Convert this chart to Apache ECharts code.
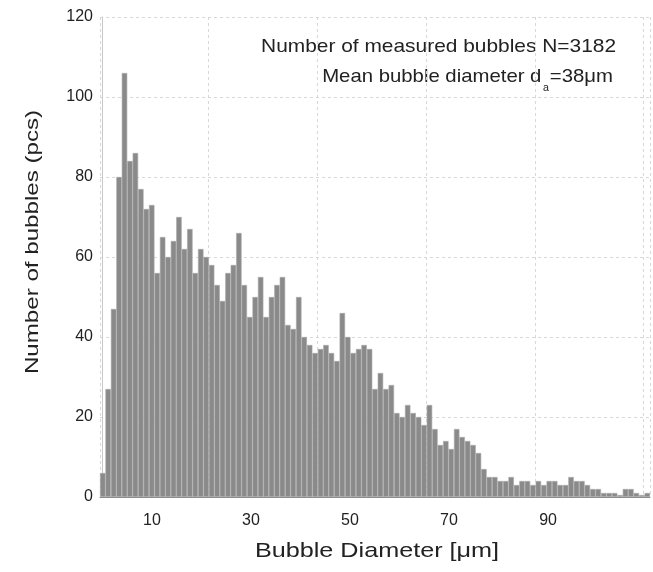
<!DOCTYPE html>
<html>
<head>
<meta charset="utf-8">
<script src="https://cdn.jsdelivr.net/npm/echarts@6/dist/echarts.min.js"></script>
<style>
html,body{margin:0;padding:0;background:#fff;}
#chart{width:653px;height:572px;}
</style>
</head>
<body>
<div id="chart"></div>
<script>
// Histogram bin index (1..101) and counts
var bins = [];
for (var i = 1; i <= 101; i++) bins.push(String(i));
var counts = [
  6, 27, 47, 80, 106, 84, 86, 77, 72, 73,
  56, 65, 60, 64, 70, 62, 67, 56, 62, 60,
  58, 53, 49, 56, 58, 66, 53, 45, 50, 55,
  45, 50, 53, 55, 43, 42, 50, 40, 38, 36,
  37, 38, 36, 34, 46, 40, 36, 37, 38, 37,
  27, 31, 27, 28, 21, 20, 23, 21, 20, 18,
  23, 17, 13, 14, 12, 17, 15, 14, 13, 11,
  7, 5, 5, 4, 4, 5, 3, 4, 4, 3,
  4, 3, 4, 4, 3, 3, 5, 4, 4, 3,
  2, 2, 1, 1, 1, 0.5, 2, 2, 1, 0.5,
  1
];
var xTickLabels = [10, 30, 50, 70, 90];
var xTitle = 'Bubble Diameter [μm]';
var yTitle = 'Number of bubbles (pcs)';
var noteLine1 = 'Number of measured bubbles N=3182';
var noteLine2a = 'Mean bubble diameter d';
var noteSub = 'a';
var noteLine2b = '=38μm';

var FONT = '"Liberation Sans", Arial, sans-serif';
var cv = document.createElement('canvas').getContext('2d');
function tw(txt, size) { cv.font = size + 'px ' + FONT; return cv.measureText(txt).width; }

var SX1 = 1.1, SX2 = 1.07;
var R2 = 613;
var w2b = tw(noteLine2b, 19) * SX2;
var wSub = tw(noteSub, 10) * SX2;
var subRight = R2 - w2b - 1;
var line2aRight = subRight - wSub - 1.5;

var chart = echarts.init(document.getElementById('chart'), null, {renderer: 'canvas'});
chart.setOption({
  animation: false,
  backgroundColor: '#ffffff',
  grid: {left: 100, right: 3, top: 17, bottom: 75, containLabel: false},
  xAxis: [
    {
      type: 'category', data: bins, position: 'bottom',
      axisLine: {show: true, lineStyle: {color: '#8a8a8a', width: 1}},
      axisTick: {show: false}, axisLabel: {show: false}, splitLine: {show: false}
    },
    {
      type: 'value', min: -0.505, max: 110.6, position: 'bottom',
      axisLine: {show: false}, axisTick: {show: false}, splitLine: {show: false},
      axisLabel: {show: true, customValues: xTickLabels, fontSize: 16, color: '#222', fontFamily: FONT, margin: 16}
    },
    {
      type: 'value', min: 0, max: 5.06, interval: 1, position: 'top',
      axisLine: {show: false}, axisTick: {show: false}, axisLabel: {show: false},
      splitLine: {show: true, lineStyle: {color: '#d8d8d8', type: [3, 3], width: 1}}
    }
  ],
  yAxis: {
    type: 'value', min: 0, max: 120, interval: 20,
    axisLine: {show: true, lineStyle: {color: '#c8c8c8'}},
    axisTick: {show: false},
    axisLabel: {fontSize: 16, color: '#222', fontFamily: FONT, margin: 7},
    splitLine: {show: true, lineStyle: {color: '#d8d8d8', type: [3, 3], width: 1}}
  },
  series: [{
    type: 'bar', xAxisIndex: 0, data: counts,
    barCategoryGap: '0%',
    itemStyle: {color: '#8a8a8a', borderColor: '#a8a8a8', borderWidth: 0.6},
    silent: true
  }],
  graphic: [
    {type: 'text', x: 377, y: 551, scaleX: 1.2, style: {text: xTitle, fontSize: 21, fill: '#222', fontFamily: FONT, align: 'center', verticalAlign: 'middle'}},
    {type: 'text', x: 33, y: 242, rotation: Math.PI / 2, scaleX: 1.27, style: {text: yTitle, fontSize: 19, fill: '#222', fontFamily: FONT, align: 'center', verticalAlign: 'middle'}},
    {type: 'text', x: 616, y: 47, scaleX: SX1, style: {text: noteLine1, fontSize: 19, fill: '#222', fontFamily: FONT, align: 'right', verticalAlign: 'middle'}},
    {type: 'text', x: line2aRight, y: 77, scaleX: SX2, style: {text: noteLine2a, fontSize: 19, fill: '#222', fontFamily: FONT, align: 'right', verticalAlign: 'middle'}},
    {type: 'text', x: subRight, y: 88, scaleX: SX2, style: {text: noteSub, fontSize: 10, fill: '#222', fontFamily: FONT, align: 'right', verticalAlign: 'middle'}},
    {type: 'text', x: R2, y: 77, scaleX: SX2, style: {text: noteLine2b, fontSize: 19, fill: '#222', fontFamily: FONT, align: 'right', verticalAlign: 'middle'}}
  ]
});
</script>
</body>
</html>
